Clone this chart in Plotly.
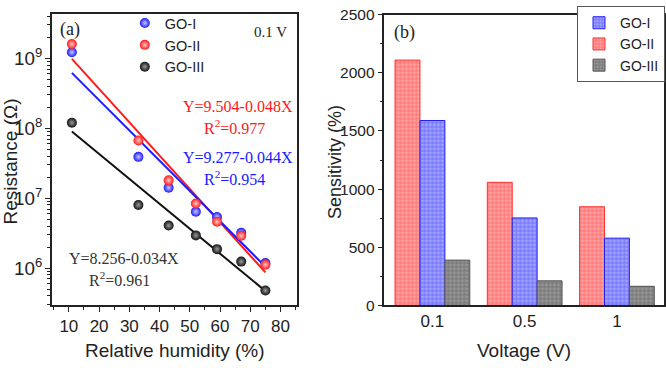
import plotly.graph_objects as go

# ---------- data: panel (a) ----------
rh = [11, 33, 43, 52, 59, 67, 75]
res_go1 = [1.22e9, 3.9e7, 1.41e7, 6.4e6, 5.4e6, 3.2e6, 1.18e6]
res_go2 = [1.6e9, 6.7e7, 1.8e7, 8.4e6, 4.6e6, 2.9e6, 1.12e6]
res_go3 = [1.2e8, 8.0e6, 4.06e6, 2.94e6, 1.87e6, 1.24e6, 4.8e5]
fit_x = [11, 75]
fit_go1 = [6.2e8, 1.05e6]
fit_go2 = [9.8e8, 8.7e5]
fit_go3 = [9.0e7, 4.7e5]

# ---------- data: panel (b) ----------
voltages = ["0.1", "0.5", "1"]
sens_go1 = [1590, 752, 578]
sens_go2 = [2110, 1058, 848]
sens_go3 = [389, 211, 164]

W, H = 666, 368
def px(x):
    return x / W
def py(y):
    return 1 - y / H

RED, BLUE, BLACK = "#ff1a1a", "#1a1aff", "#111111"
SANS = "Liberation Sans, Arial"
TICKFONT = dict(family=SANS, size=17, color="#222")
TITLEFONT = dict(family=SANS, size=19, color="#222")
SERIF = "Liberation Serif, Times New Roman"

fig = go.Figure()

# fit lines
for fy, col in [(fit_go2, RED), (fit_go1, BLUE), (fit_go3, BLACK)]:
    fig.add_trace(go.Scatter(x=fit_x, y=fy, mode="lines", line=dict(color=col, width=2),
                             showlegend=False, hoverinfo="skip", xaxis="x", yaxis="y"))

# scatter points
for name, ys, col, light, rank in [("GO-I", res_go1, BLUE, "#c8c8ff", 1),
                                   ("GO-II", res_go2, RED, "#ffc8c8", 2),
                                   ("GO-III", res_go3, BLACK, "#9a9a9a", 3)]:
    fig.add_trace(go.Scatter(x=rh, y=ys, mode="markers", name=name, legendrank=rank,
                             marker=dict(size=10, color=col,
                                         gradient=dict(type="radial", color=light),
                                         line=dict(width=0)),
                             xaxis="x", yaxis="y", legend="legend"))

# bars
for name, vals, col, fg, line, rank in [("GO-II", sens_go2, "#ff7a7a", "#ffd0d0", "#ff3030", 2),
                                         ("GO-I", sens_go1, "#7a7aff", "#d0d0ff", "#2020ff", 1),
                                         ("GO-III", sens_go3, "#7a7a7a", "#b8b8b8", "#555555", 3)]:
    fig.add_trace(go.Bar(x=list(range(len(voltages))), y=vals, name=name, legendrank=rank,
                         marker=dict(color=col, line=dict(color=line, width=1),
                                     pattern=dict(shape=".", fgcolor=fg, size=4, solidity=0.45)),
                         xaxis="x2", yaxis="y2", legend="legend2"))

axis_common = dict(showline=True, linecolor="#222", linewidth=1.5, mirror=True,
                   ticks="outside", ticklen=5, tickwidth=1.2, tickcolor="#222",
                   showgrid=False, zeroline=False, tickfont=TICKFONT,
                   ticklabeloverflow="allow")

fig.update_layout(
    width=W, height=H, margin=dict(l=0, r=0, t=0, b=0),
    paper_bgcolor="white", plot_bgcolor="white",
    barmode="group", bargap=0.19, bargroupgap=0,
    xaxis=dict(domain=[px(52), px(297)], range=[4.4, 85.3], tickvals=[10, 20, 30, 40, 50, 60, 70, 80],
               minor=dict(ticks="outside", ticklen=3, dtick=5, tickcolor="#222"),
               anchor="y", **axis_common),
    yaxis=dict(domain=[py(310.7), py(5)], type="log", range=[5.468, 9.637], dtick=1,
               exponentformat="power", showexponent="all",
               minor=dict(ticks="outside", ticklen=3, tickcolor="#222"),
               anchor="x", **{**axis_common, "tickfont": dict(family=SANS, size=15, color="#222")}),
    xaxis2=dict(domain=[px(385), px(665)], range=[-0.52, 2.51], tickvals=[0, 1, 2], ticktext=voltages,
                anchor="y2", **{**axis_common, "ticks": ""}),
    yaxis2=dict(domain=[py(310.7), py(6)], range=[0, 2500], dtick=500,
                minor=dict(ticks="outside", ticklen=3, dtick=250, tickcolor="#222"),
                anchor="x2", **{**axis_common, "tickfont": dict(family=SANS, size=15.5, color="#222")}),
    legend=dict(x=px(125), y=py(-2), xanchor="left", yanchor="top", bgcolor="rgba(0,0,0,0)",
                font=dict(family=SANS, size=14.5, color="#222"),
                tracegroupgap=0, itemwidth=30),
    legend2=dict(x=px(666), y=py(-3), xanchor="right", yanchor="top", bgcolor="white",
                 bordercolor="#555", borderwidth=1,
                 font=dict(family=SANS, size=14, color="#222"),
                 tracegroupgap=0, itemwidth=32),
)

ann = [
    dict(x=px(70), y=py(22), text="(a)", font=dict(family=SERIF, size=18, color="#222")),
    dict(x=px(271), y=py(24), text="0.1 V", font=dict(family=SERIF, size=15, color="#222")),
    dict(x=px(405), y=py(25), text="(b)", font=dict(family=SERIF, size=18, color="#222")),
    dict(x=px(238), y=py(102), text="Y=9.504-0.048X", font=dict(family=SERIF, size=16, color=RED)),
    dict(x=px(235), y=py(124), text="R<sup>2</sup>=0.977", font=dict(family=SERIF, size=16, color=RED)),
    dict(x=px(238), y=py(156), text="Y=9.277-0.044X", font=dict(family=SERIF, size=16, color=BLUE)),
    dict(x=px(235), y=py(177), text="R<sup>2</sup>=0.954", font=dict(family=SERIF, size=16, color=BLUE)),
    dict(x=px(124), y=py(262), text="Y=8.256-0.034X", font=dict(family=SERIF, size=16, color="#333")),
    dict(x=px(120), y=py(283), text="R<sup>2</sup>=0.961", font=dict(family=SERIF, size=16, color="#333")),
    dict(x=px(175), y=py(358), text="Relative humidity (%)", font=TITLEFONT),
    dict(x=px(525), y=py(358), text="Voltage (V)", font=TITLEFONT),
    dict(x=px(11), y=py(160), text="Resistance (Ω)", font=TITLEFONT, textangle=-90),
    dict(x=px(335), y=py(160), text="Sensitivity (%)", font=dict(family=SANS, size=18, color="#222"),
         textangle=-90),
]
for a in ann:
    a.update(xref="paper", yref="paper", showarrow=False, xanchor="center", yanchor="middle")
fig.update_layout(annotations=ann)

fig.write_html("out.html")
